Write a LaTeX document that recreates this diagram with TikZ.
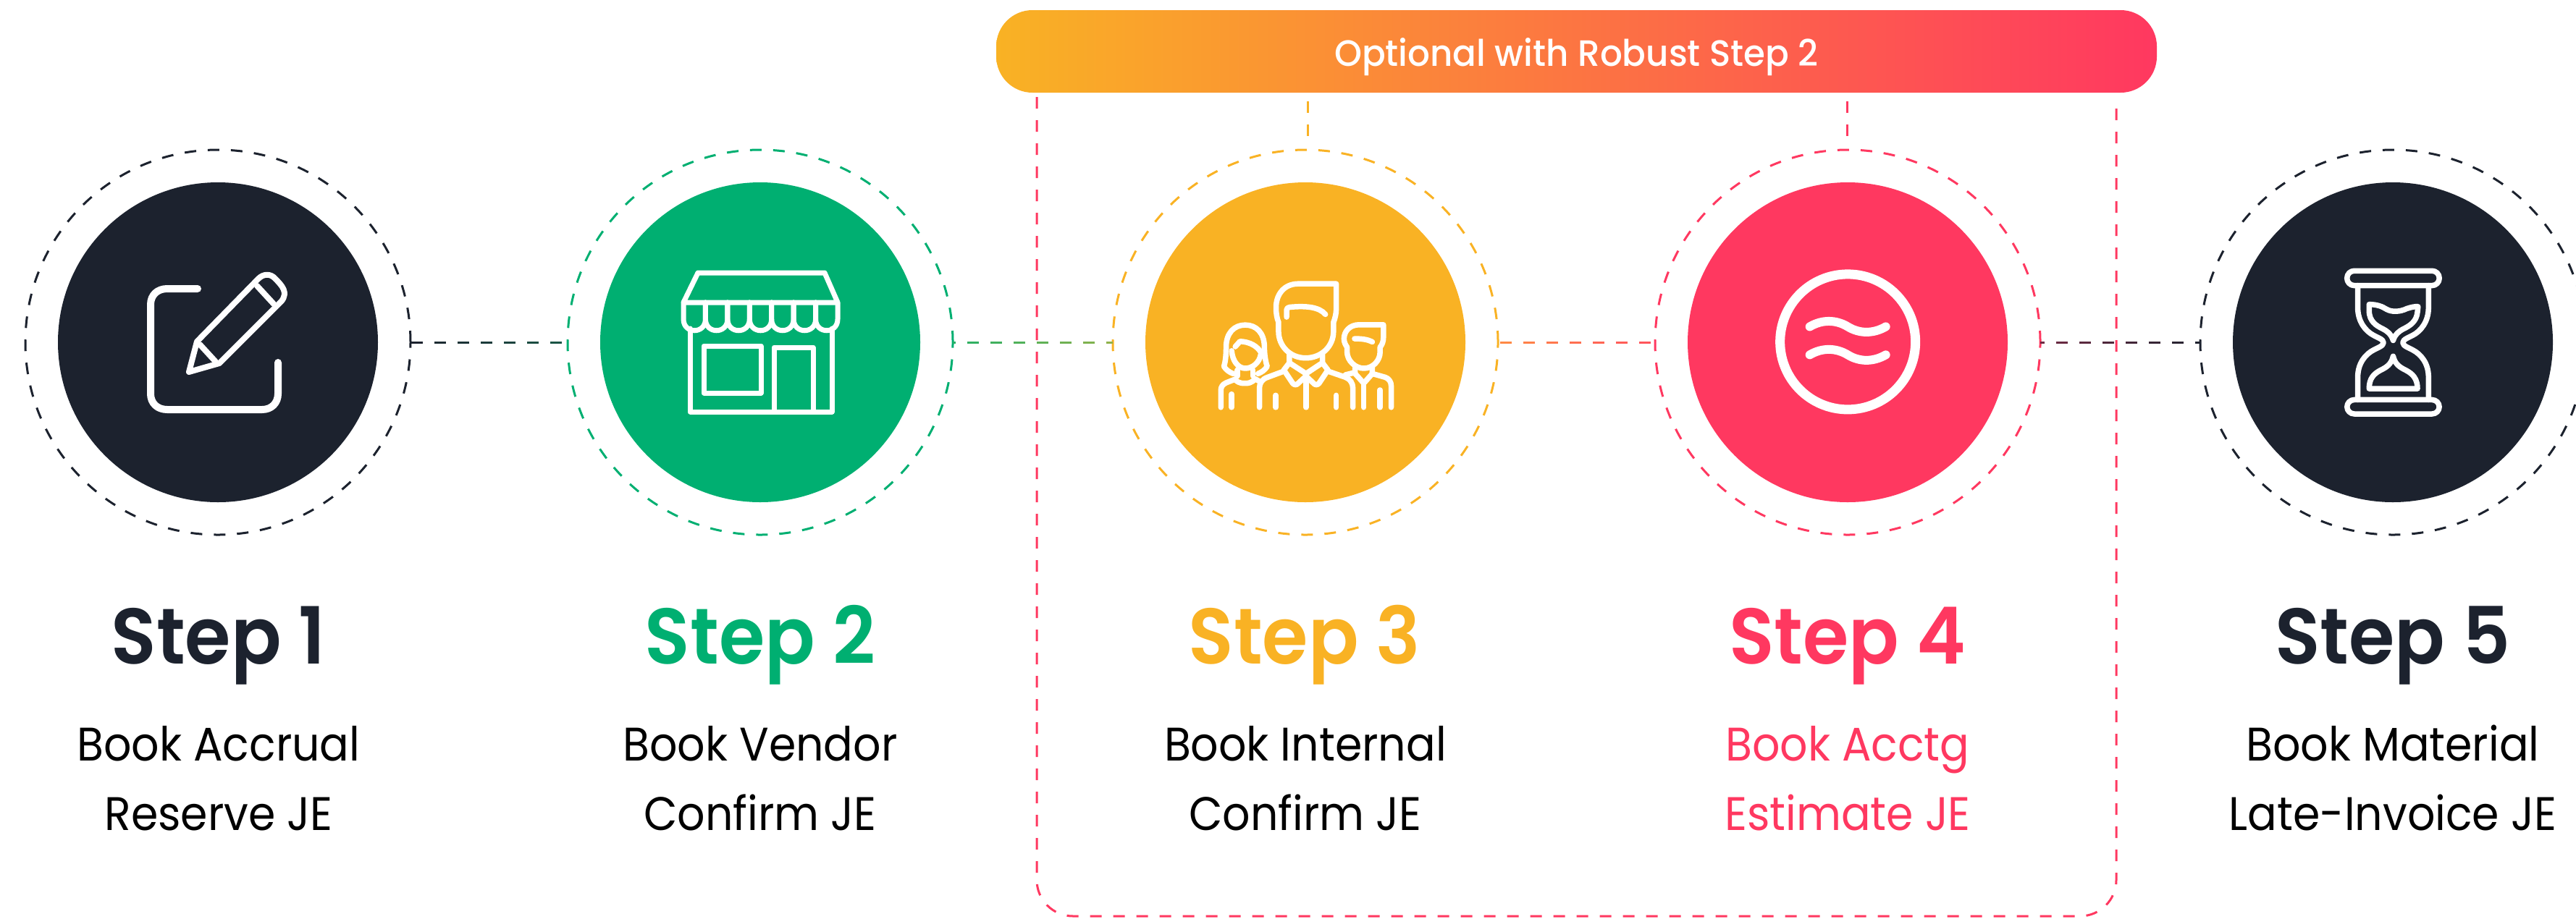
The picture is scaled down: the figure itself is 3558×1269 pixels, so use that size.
\documentclass[tikz,border=0pt]{standalone}
\usepackage{fontspec}
\setmainfont{Poppins}
\newfontfamily\bodyfont{Poppins}[FakeStretch=0.925]
\newfontfamily\titlefont{Poppins SemiBold}[FakeStretch=0.94]
\newfontfamily\pillfont{Poppins Medium}[FakeStretch=0.955]
\usetikzlibrary{calc,shapes.misc}
\definecolor{cdark}{HTML}{1C222E}
\definecolor{cgreen}{HTML}{00AF71}
\definecolor{cyellow}{HTML}{F9B224}
\definecolor{cpink}{HTML}{FF3860}
\definecolor{la}{HTML}{1C222E}\definecolor{lb}{HTML}{1A5A48}
\definecolor{lc}{HTML}{28B064}\definecolor{ld}{HTML}{93B24A}
\definecolor{le}{HTML}{FF8A45}\definecolor{lf}{HTML}{FF4F5E}
\definecolor{lg}{HTML}{702B44}\definecolor{lh}{HTML}{1C222E}
\newlength\px \setlength\px{0.01cm}
\tikzset{
  disc/.style={circle,fill=#1,draw=none,inner sep=0,outer sep=0,minimum size=442\px},
  halo/.style={circle,draw=#1,line width=3\px,dash pattern=on 16\px off 16\px,inner sep=0,outer sep=0,minimum size=532\px},
  dashline/.style={draw=#1,line width=3\px,dash pattern=on 16\px off 16\px},
  icon/.style={draw=white,line width=#1\px,line cap=round,line join=round},
  icon/.default=7.5,
  steptitle/.style={anchor=base,font=\fontsize{31}{31}\selectfont\titlefont},
  stepbody/.style={anchor=base,font=\fontsize{18.5}{18.5}\selectfont\bodyfont},
}
% gradient dashed connector: from node #1 east to node #2 west
\newcommand{\gradlink}[6]{%
  \foreach \k in {-1,...,7}{%
    \pgfmathsetmacro\sa{max(#5+32*\k,0)}%
    \pgfmathsetmacro\sb{min(#5+32*\k+16,#6)}%
    \pgfmathsetmacro\pc{\sa/#6*100}%
    \ifdim\sa pt<\sb pt
      \draw[line width=3\px,color={#4!\pc!#3}] ($(#1.east)+(\sa,0)$) -- ($(#1.east)+(\sb,0)$);
    \fi
  }%
  \path (#1.east) -- (#2.west);%
}
\begin{document}
\begin{tikzpicture}[x=0.01cm,y=-0.01cm]
\useasboundingbox (0,0) rectangle (3558,1269);
\clip (0,0) rectangle (3558,1269);

% optional frame
\node[rectangle,rounded corners=50\px,left color=cyellow,right color=cpink,draw=none,
      minimum width=1603\px,minimum height=114\px,inner sep=0,outer sep=0,text=white,
      text height=40\px,text depth=0pt,font=\fontsize{14.4}{14.4}\selectfont\pillfont] (pill) at (2177.5,71) {Optional with Robust Step 2};
\coordinate (fl) at (1432,134);
\coordinate (fr) at (2923,143);
\draw[dashline=cpink,rounded corners=50\px] (fl) -- (fl |- 0,1266) -- (fr |- 0,1266) -- (fr);

% discs and halos
\node[halo=cdark] (o1) at (301,473) {};
\node[halo=cgreen] (o2) at (1050,473) {};
\node[halo=cyellow] (o3) at (1803,473) {};
\node[halo=cpink] (o4) at (2552,473) {};
\node[halo=cdark] (o5) at (3305,473) {};
\node[disc=cdark] (d1) at (o1) {};
\node[disc=cgreen] (d2) at (o2) {};
\node[disc=cyellow] (d3) at (o3) {};
\node[disc=cpink] (d4) at (o4) {};
\node[disc=cdark] (d5) at (o5) {};

% connectors
\gradlink{o1}{o2}{la}{lb}{1}{216}
\gradlink{o2}{o3}{lc}{ld}{20}{221}
\gradlink{o3}{o4}{le}{lf}{3}{217}
\gradlink{o4}{o5}{lg}{lh}{22}{221}
\coordinate (s3) at (1806,140);
\coordinate (s4) at (2551,140);
\draw[dashline=cyellow] (s3) -- ($(s3)+(0,50)$);
\draw[dashline=cpink] (s4) -- ($(s4)+(0,50)$);

% pencil icon
\begin{scope}[icon=10]
  \draw (273,399) -- (231,399) .. controls (217,399) and (208,408) .. (208,421) -- (208,544)
        .. controls (208,557) and (217,566) .. (231,566) -- (362,566)
        .. controls (375,566) and (384,557) .. (384,544) -- (384,501);
\end{scope}
\begin{scope}[icon=8]
  \draw (261,514) -- (272,472) -- (357,385) .. controls (364,378) and (374,378) .. (380,385)
        .. controls (390,395) and (398,404) .. (389,416) -- (303,502) -- cycle;
  \draw (355,395) -- (378,420);
  \draw (276,476) -- (298,500);
\end{scope}

% shop icon
\begin{scope}[icon=7]
  \draw (964,377) -- (1139,377) -- (1157,418) -- (944,418) -- cycle;
  \foreach \xa/\xb in {944/974.4,974.4/1004.9,1004.9/1035.3,1035.3/1065.7,1065.7/1096.1,1096.1/1126.6,1126.6/1157}{
    \draw (\xa,418) -- (\xa,441) .. controls (\xa,462) and (\xb,462) .. (\xb,441) -- (\xb,418);
  }
  \draw (953,454) -- (953,569) -- (1149,569) -- (1149,454);
  \draw (972,478) rectangle (1051,543);
  \draw (1069,480) rectangle (1123,569);
\end{scope}

% people icon
\begin{scope}[shift={(1500,300)},x=0.003827cm,y=-0.003333cm,icon=7.5]
  % man
  \draw (902,277) -- (765,277) .. controls (715,277) and (685,320) .. (685,375)
        .. controls (685,400) and (688,420) .. (694,437) -- (694,475)
        .. controls (694,535) and (735,585) .. (792,585) .. controls (850,585) and (892,535) .. (892,475)
        -- (892,437) .. controls (898,420) and (902,400) .. (902,380) -- cycle;
  \draw (723,415) -- (723,385) .. controls (723,378) and (728,375) .. (735,374)
        .. controls (790,368) and (840,372) .. (863,404);
  \draw (733,570) -- (733,605) -- (793,650) -- (852,605) -- (852,570);
  \draw (733,605) -- (713,635) -- (745,690) .. controls (750,698) and (760,698) .. (765,690) -- (793,660)
        -- (820,690) .. controls (825,698) and (835,698) .. (840,690) -- (872,635) -- (852,605);
  \draw (793,660) -- (793,790);
  \draw (713,640) -- (655,665) .. controls (635,672) and (625,690) .. (625,710) -- (625,790);
  \draw (872,640) -- (935,665) .. controls (952,672) and (962,690) .. (962,710) -- (962,790);
  \draw (684,740) -- (684,790);
  \draw (902,740) -- (902,790);
  % woman
  \draw (530,650) .. controls (518,645) and (505,635) .. (497,620) .. controls (503,600) and (505,570) .. (505,540)
        .. controls (505,480) and (535,448) .. (574,448) .. controls (613,448) and (643,480) .. (643,540)
        .. controls (643,570) and (647,600) .. (653,620) .. controls (645,635) and (632,645) .. (620,650);
  \draw (525,555) .. controls (528,600) and (550,628) .. (574,628) .. controls (600,628) and (625,605) .. (630,570);
  \draw (538,538) -- (555,516) .. controls (590,518) and (618,535) .. (632,565);
  \draw (546,635) -- (546,660);
  \draw (602,635) -- (602,660);
  \draw (540,678) .. controls (555,692) and (565,690) .. (574,690) .. controls (585,690) and (595,690) .. (610,672) -- (622,680);
  \draw (540,672) -- (505,688) .. controls (492,695) and (486,705) .. (486,720) -- (486,790);
  \draw (525,735) -- (525,790);
  % boy
  \draw (1072,447) -- (985,447) .. controls (950,447) and (930,475) .. (930,505)
        .. controls (930,520) and (935,530) .. (941,540) -- (941,560)
        .. controls (941,595) and (970,628) .. (1001,628) .. controls (1035,628) and (1060,595) .. (1060,560)
        -- (1060,540) .. controls (1068,530) and (1072,515) .. (1072,500) -- cycle;
  \draw (968,505) .. controls (995,505) and (1015,508) .. (1032,518);
  \draw (935,655) -- (970,645) -- (970,625);
  \draw (1032,625) -- (1032,650) -- (1078,665) .. controls (1092,670) and (1100,685) .. (1100,700) -- (1100,790);
  \draw (970,650) -- (1001,690) -- (1032,650);
  \draw (1001,690) -- (1001,790);
  \draw (1060,718) -- (1060,790);
\end{scope}

% circle-wave icon
\begin{scope}[shift={(2300,300)},x=0.003827cm,y=-0.003333cm]
  \node[circle,draw=white,line width=13\px,minimum size=187\px,inner sep=0] (waves) at (658,518) {};
  \draw[icon=12] (521,455) .. controls (565,425) and (615,425) .. (658,455) .. controls (700,485) and (750,485) .. (795,455);
  \draw[icon=12] (521,572) .. controls (565,542) and (615,542) .. (658,572) .. controls (700,602) and (750,602) .. (795,572);
\end{scope}

% hourglass icon
\begin{scope}[shift={(2960,180)},x=0.003814cm,y=-0.003827cm,icon=7.5]
  \draw[rounded corners=10\px] (738,507) rectangle (1072,560);
  \draw[rounded corners=10\px] (738,972) rectangle (1072,1023);
  \draw (777,560) -- (777,640) .. controls (777,690) and (805,725) .. (835,740) -- (855,750)
        .. controls (875,760) and (875,772) .. (855,782) -- (835,792)
        .. controls (805,807) and (777,840) .. (777,890) -- (777,972);
  \draw (1033,560) -- (1033,640) .. controls (1033,690) and (1005,725) .. (975,740) -- (955,750)
        .. controls (935,760) and (935,772) .. (955,782) -- (975,792)
        .. controls (1005,807) and (1033,840) .. (1033,890) -- (1033,972);
  \draw (818,628) .. controls (845,628) and (865,635) .. (880,645) .. controls (900,657) and (930,655) .. (955,643)
        .. controls (970,638) and (985,635) .. (995,636) -- (993,655) .. controls (990,690) and (965,705) .. (945,715)
        .. controls (925,725) and (912,735) .. (905,758) .. controls (898,735) and (885,725) .. (865,715)
        .. controls (845,705) and (818,690) .. (818,650) -- cycle;
  \draw (905,815) .. controls (912,845) and (930,855) .. (950,865) .. controls (975,878) and (993,895) .. (993,932)
        -- (818,932) .. controls (818,895) and (835,878) .. (860,865) .. controls (880,855) and (898,845) .. (905,815) -- cycle;
\end{scope}

% labels
\node[steptitle,text=cdark] (t1) at (302,917) {Step 1};
\node[steptitle,text=cgreen] (t2) at (1050,917) {Step 2};
\node[steptitle,text=cyellow] (t3) at (1802,917) {Step 3};
\node[steptitle,text=cpink] (t4) at (2552,917) {Step 4};
\node[steptitle,text=cdark] (t5) at (3305,917) {Step 5};
\node[stepbody,text=black] (a1) at (302,1051) {Book Accrual};
\node[stepbody,text=black] (b1) at (302,1147) {Reserve JE};
\node[stepbody,text=black] (a2) at (1050,1051) {Book Vendor};
\node[stepbody,text=black] (b2) at (1050,1147) {Confirm JE};
\node[stepbody,text=black] (a3) at (1803,1051) {Book Internal};
\node[stepbody,text=black] (b3) at (1803,1147) {Confirm JE};
\node[stepbody,text=cpink] (a4) at (2552,1051) {Book Acctg};
\node[stepbody,text=cpink] (b4) at (2552,1147) {Estimate JE};
\node[stepbody,text=black] (a5) at (3305,1051) {Book Material};
\node[stepbody,text=black] (b5) at (3305,1147) {Late-Invoice JE};
\end{tikzpicture}
\end{document}
